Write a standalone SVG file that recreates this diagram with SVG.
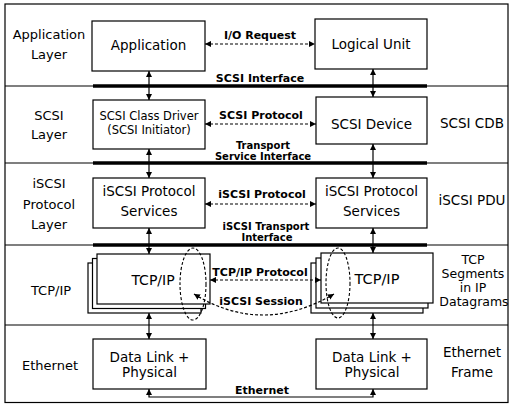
<svg xmlns="http://www.w3.org/2000/svg" width="513" height="405" viewBox="0 0 513 405">
  <style>
    text { font-family: "DejaVu Sans", Verdana, sans-serif; fill: #000; text-anchor: middle; }
    .box { fill: #fff; stroke: #000; stroke-width: 1.2; }
    .lbl { font-size: 13px; }
    .node { font-size: 13.5px; }
    .unit { font-size: 12.5px; }
    .small { font-size: 11.5px; }
    .conn { font-size: 11px; font-weight: bold; }
    .conn2 { font-size: 10px; font-weight: bold; }
    .sep { stroke: #000; stroke-width: 1.2; fill: none; }
    .bar { stroke: #000; stroke-width: 3.5; fill: none; }
    .v { stroke: #000; stroke-width: 1.2; fill: none; marker-start: url(#ah); marker-end: url(#ah); }
    .d { stroke: #000; stroke-width: 1.2; fill: none; stroke-dasharray: 3 2; marker-start: url(#ah); marker-end: url(#ah); }
    .ell { stroke: #000; stroke-width: 1.1; fill: none; stroke-dasharray: 3 2; }
  </style>
  <defs>
    <marker id="ah" markerUnits="userSpaceOnUse" markerWidth="6" markerHeight="6" refX="6" refY="3" orient="auto-start-reverse">
      <path d="M0,0 L6,3 L0,6 z" fill="#000"/>
    </marker>
  </defs>
  <rect width="513" height="405" fill="#fff"/>

  <!-- outer frame and layer separators -->
  <g id="frame">
    <rect x="5" y="4" width="503" height="398.5" class="sep"/>
    <line x1="5" y1="86" x2="508" y2="86" class="sep"/>
    <line x1="5" y1="163" x2="508" y2="163" class="sep"/>
    <line x1="5" y1="245" x2="508" y2="245" class="sep"/>
    <line x1="5" y1="325" x2="508" y2="325" class="sep"/>
    <line x1="93" y1="86" x2="427" y2="86" class="bar"/>
    <line x1="93" y1="163" x2="427" y2="163" class="bar"/>
    <line x1="93" y1="245" x2="427" y2="245" class="bar"/>
  </g>

  <!-- layer names on the left -->
  <g id="layer-labels">
    <text x="49" y="39" class="lbl">Application</text>
    <text x="49" y="59" class="lbl">Layer</text>
    <text x="49" y="120" class="lbl">SCSI</text>
    <text x="49" y="139" class="lbl">Layer</text>
    <text x="49" y="188" class="lbl">iSCSI</text>
    <text x="49" y="209" class="lbl">Protocol</text>
    <text x="49" y="229" class="lbl">Layer</text>
    <text x="51" y="295" class="lbl">TCP/IP</text>
    <text x="50" y="370" class="lbl">Ethernet</text>
  </g>

  <!-- data units on the right -->
  <g id="unit-labels">
    <text x="472" y="128" class="node">SCSI CDB</text>
    <text x="472" y="205" class="node">iSCSI PDU</text>
    <text x="473" y="264" class="unit">TCP</text>
    <text x="473" y="278" class="unit">Segments</text>
    <text x="473" y="292" class="unit">in IP</text>
    <text x="474" y="306" class="unit">Datagrams</text>
    <text x="472" y="357" class="node">Ethernet</text>
    <text x="472" y="377" class="node">Frame</text>
  </g>

  <g id="application">
    <rect x="92" y="21" width="113" height="50" class="box"/>
    <text x="148.5" y="50" class="node">Application</text>
  </g>
  <g id="logical-unit">
    <rect x="315" y="19" width="112" height="50" class="box"/>
    <text x="371" y="49" class="node">Logical Unit</text>
  </g>
  <g id="scsi-class-driver">
    <rect x="93" y="100" width="112" height="49" class="box"/>
    <text x="149" y="120" class="small">SCSI Class Driver</text>
    <text x="149" y="134" class="small">(SCSI Initiator)</text>
  </g>
  <g id="scsi-device">
    <rect x="316" y="97" width="111" height="47" class="box"/>
    <text x="371.5" y="129" class="node">SCSI Device</text>
  </g>
  <g id="iscsi-initiator">
    <rect x="93" y="178" width="112" height="50" class="box"/>
    <text x="149" y="196" class="node">iSCSI Protocol</text>
    <text x="149" y="216" class="node">Services</text>
  </g>
  <g id="iscsi-target">
    <rect x="316" y="178" width="111" height="50" class="box"/>
    <text x="371.5" y="196" class="node">iSCSI Protocol</text>
    <text x="371.5" y="216" class="node">Services</text>
  </g>
  <g id="tcpip-initiator">
    <rect x="88" y="263" width="113" height="50" class="box"/>
    <rect x="92.5" y="258.5" width="113" height="50" class="box"/>
    <rect x="97" y="254" width="113" height="50" class="box"/>
    <text x="153" y="285" class="node" style="font-size:14px">TCP/IP</text>
  </g>
  <g id="tcpip-target">
    <rect x="311" y="263" width="112" height="50" class="box"/>
    <rect x="316" y="258" width="112" height="50" class="box"/>
    <rect x="321" y="253" width="112" height="50" class="box"/>
    <text x="377" y="284" class="node" style="font-size:14.5px">TCP/IP</text>
  </g>
  <g id="datalink-initiator">
    <rect x="93" y="339" width="113" height="50" class="box"/>
    <text x="149.5" y="362" class="node">Data Link +</text>
    <text x="149.5" y="377" class="node">Physical</text>
  </g>
  <g id="datalink-target">
    <rect x="316" y="339" width="111" height="50" class="box"/>
    <text x="372" y="362" class="node">Data Link +</text>
    <text x="372" y="377" class="node">Physical</text>
  </g>

  <!-- connectors -->
  <g id="connectors">
    <!-- vertical interfaces -->
    <line x1="149" y1="71" x2="149" y2="100" class="v"/>
    <line x1="373" y1="69" x2="373" y2="97" class="v"/>
    <line x1="149" y1="149" x2="149" y2="178" class="v"/>
    <line x1="373" y1="144" x2="373" y2="178" class="v"/>
    <line x1="149" y1="228" x2="149" y2="254" class="v"/>
    <line x1="373" y1="228" x2="373" y2="253" class="v"/>
    <line x1="149" y1="313" x2="149" y2="339" class="v"/>
    <line x1="373" y1="313" x2="373" y2="339" class="v"/>

    <!-- peer protocols -->
    <line x1="205" y1="44" x2="315" y2="44" class="d"/>
    <line x1="205" y1="124" x2="316" y2="124" class="d"/>
    <line x1="205" y1="204" x2="316" y2="204" class="d"/>
    <line x1="210" y1="280" x2="321" y2="280" class="d"/>

    <!-- iSCSI session -->
    <ellipse cx="193" cy="284" rx="13" ry="36" class="ell"/>
    <ellipse cx="338" cy="283" rx="12" ry="35" class="ell"/>
    <path d="M194,294 Q262,336 334,294" class="d"/>

    <!-- ethernet link -->
    <polyline points="149,389 149,397 373,397 373,389" style="stroke:#000;stroke-width:1.2;fill:none;marker-start:url(#ah);marker-end:url(#ah)"/>

    <text x="260" y="39" class="conn">I/O Request</text>
    <text x="260" y="82" class="conn">SCSI Interface</text>
    <text x="261" y="119" class="conn">SCSI Protocol</text>
    <text x="263" y="149" class="conn2">Transport</text>
    <text x="263" y="160" class="conn2">Service Interface</text>
    <text x="262" y="198" class="conn">iSCSI Protocol</text>
    <text x="266" y="230" class="conn2">iSCSI Transport</text>
    <text x="267" y="241" class="conn2">Interface</text>
    <text x="260" y="276" class="conn">TCP/IP Protocol</text>
    <text x="261" y="305" class="conn">iSCSI Session</text>
    <text x="262" y="394" class="conn">Ethernet</text>
  </g>
</svg>
